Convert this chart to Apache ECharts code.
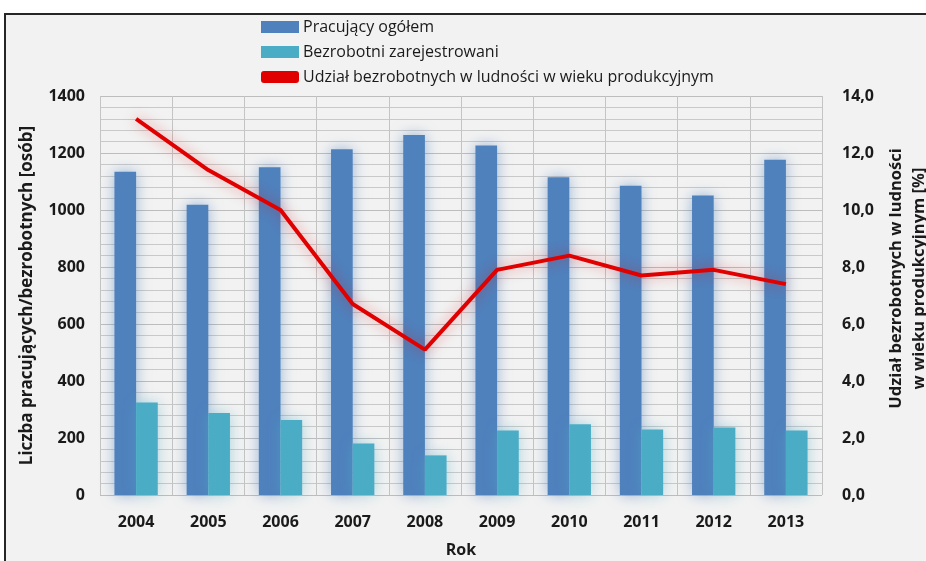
<!DOCTYPE html>
<html>
<head>
<meta charset="utf-8">
<script src="https://cdn.jsdelivr.net/npm/echarts@6/dist/echarts.min.js"></script>
<style>
  html, body { margin: 0; padding: 0; background: #ffffff; }
  #chart { width: 926px; height: 561px; }
</style>
</head>
<body>
<div id="chart"></div>
<script>
const years = ['2004', '2005', '2006', '2007', '2008', '2009', '2010', '2011', '2012', '2013'];
const employed = [1134, 1018, 1150, 1213, 1263, 1226, 1115, 1085, 1051, 1176];
const unemployed = [325, 288, 263, 181, 139, 226, 248, 230, 237, 226];
const unemploymentShare = [13.2, 11.4, 10.0, 6.7, 5.1, 7.9, 8.4, 7.7, 7.9, 7.4];
// half-category slots, used only for the vertical grid lines
const halfSlots = years.flatMap(y => [y + 'a', y + 'b']);

const chart = echarts.init(document.getElementById('chart'));

const labelFont = { fontFamily: 'Open Sans', fontWeight: 'bold', fontSize: 16, color: '#1a1a1a' };
const nameFont = { fontFamily: 'Open Sans', fontWeight: 'bold', fontSize: 16, color: '#1a1a1a' };

chart.setOption({
  backgroundColor: '#ffffff',
  animation: false,
  graphic: [
    {
      type: 'rect',
      z: -10,
      shape: { x: 5, y: 14, width: 1000, height: 1000 },
      style: { fill: '#f2f2f2', stroke: '#262626', lineWidth: 2 }
    }
  ],
  legend: {
    orient: 'vertical',
    left: 256,
    top: 14,
    itemGap: 9,
    itemWidth: 38,
    itemHeight: 12,
    textStyle: { fontFamily: 'Open Sans', fontSize: 16, color: '#1a1a1a', padding: [0, 0, 0, -1] },
    data: [
      { name: 'Pracujący ogółem', icon: 'rect' },
      { name: 'Bezrobotni zarejestrowani', icon: 'rect' },
      { name: 'Udział bezrobotnych w ludności w wieku produkcyjnym', icon: 'roundRect' }
    ]
  },
  grid: { left: 100, right: 104, top: 96, bottom: 66, outerBoundsMode: 'none', containLabel: false },
  xAxis: [
    {
      type: 'category',
      data: years,
      name: 'Rok',
      nameLocation: 'middle',
      nameGap: 47,
      nameTextStyle: nameFont,
      axisLine: { show: false },
      axisTick: { show: false },
      axisLabel: Object.assign({ margin: 19 }, labelFont),
      splitLine: { show: false }
    },
    {
      type: 'category',
      data: halfSlots,
      position: 'bottom',
      axisLine: { show: false },
      axisTick: { show: false },
      axisLabel: { show: false },
      splitLine: { show: true, lineStyle: { color: '#c4c4c4', width: 1 } }
    }
  ],
  yAxis: [
    {
      type: 'value',
      min: 0,
      max: 1400,
      interval: 200,
      name: 'Liczba pracujących/bezrobotnych [osób]',
      nameLocation: 'middle',
      nameGap: 64,
      nameTextStyle: Object.assign({}, nameFont, { fontSize: 17 }),
      axisLine: { show: false },
      axisTick: { show: false },
      axisLabel: Object.assign({ margin: 15, formatter: v => String(v) }, labelFont),
      splitLine: { show: true, lineStyle: { color: '#bdbdbd', width: 1 } },
      minorTick: { show: false, splitNumber: 5 },
      minorSplitLine: { show: true, lineStyle: { color: '#c9c9c9', width: 1 } }
    },
    {
      type: 'value',
      min: 0,
      max: 14,
      interval: 2,
      position: 'right',
      name: 'Udział bezrobotnych w ludności\nw wieku produkcyjnym [%]',
      nameLocation: 'middle',
      nameRotate: 90,
      nameGap: 48,
      nameTextStyle: Object.assign({}, nameFont, { fontSize: 16.5, lineHeight: 23, padding: [0, 0, 0, 34] }),
      axisLine: { show: false },
      axisTick: { show: false },
      axisLabel: Object.assign({ margin: 20, formatter: v => v.toFixed(1).replace('.', ',') }, labelFont),
      splitLine: { show: false }
    }
  ],
  series: [
    {
      name: 'Pracujący ogółem',
      type: 'bar',
      data: employed,
      barGap: '0%',
      barCategoryGap: '40%',
      itemStyle: { color: '#4f81bd', shadowBlur: 14, shadowColor: 'rgba(79,129,189,0.55)' }
    },
    {
      name: 'Bezrobotni zarejestrowani',
      type: 'bar',
      data: unemployed,
      itemStyle: { color: '#4bacc6', shadowBlur: 14, shadowColor: 'rgba(75,172,198,0.45)' }
    },
    {
      name: 'Udział bezrobotnych w ludności w wieku produkcyjnym',
      type: 'line',
      yAxisIndex: 1,
      data: unemploymentShare,
      symbol: 'none',
      itemStyle: { color: '#e00000' },
      lineStyle: { color: '#e00000', width: 4, shadowBlur: 14, shadowColor: 'rgba(224,0,0,0.45)' },
      z: 5
    }
  ]
});
</script>
</body>
</html>
